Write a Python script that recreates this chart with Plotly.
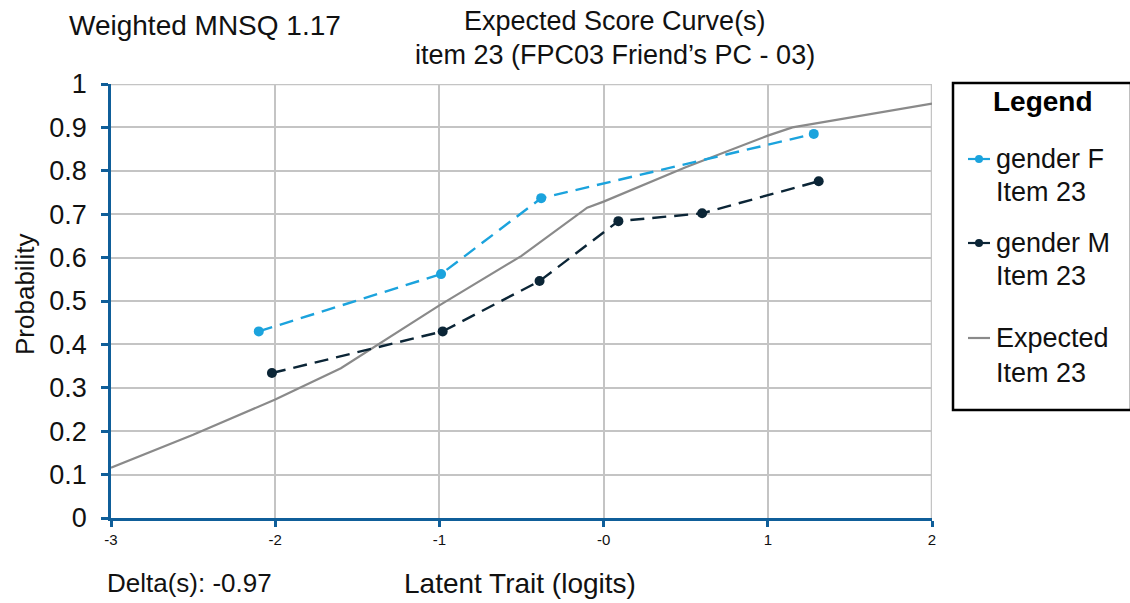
import plotly.graph_objects as go

# Observed proportions by group
f_x = [-2.10, -0.99, -0.38, 1.28]
f_y = [0.430, 0.562, 0.737, 0.885]
m_x = [-2.02, -0.98, -0.39, 0.09, 0.60, 1.31]
m_y = [0.334, 0.430, 0.546, 0.684, 0.702, 0.776]

# Model expected score curve
exp_x = [-3.0, -2.5, -2.0, -1.6, -1.0, -0.5, -0.1, 0.0, 0.5, 1.0, 1.15, 1.5, 2.0]
exp_y = [0.116, 0.192, 0.273, 0.345, 0.490, 0.604, 0.715, 0.729, 0.808, 0.881, 0.900, 0.923, 0.955]

x_ticks = [-3, -2, -1, 0, 1, 2]
x_tick_text = ["-3", "-2", "-1", "-0", "1", "2"]
y_ticks = [0, 0.1, 0.2, 0.3, 0.4, 0.5, 0.6, 0.7, 0.8, 0.9, 1]
y_tick_text = ["0", "0.1", "0.2", "0.3", "0.4", "0.5", "0.6", "0.7", "0.8", "0.9", "1"]

F_COLOR = "#1ba3dd"
M_COLOR = "#0b2536"
E_COLOR = "#8a8a8a"
AXIS_COLOR = "#0f5e99"
GRID_COLOR = "#c4c4c4"
TEXT_COLOR = "#111111"
FONT = "Liberation Sans, Arial, sans-serif"
DASH = "14px,8px"

fig = go.Figure()
fig.add_trace(go.Scatter(x=exp_x, y=exp_y, mode="lines",
                         line=dict(color=E_COLOR, width=2.2), name="Expected Item 23"))
fig.add_trace(go.Scatter(x=f_x, y=f_y, mode="lines+markers",
                         line=dict(color=F_COLOR, width=2.4, dash=DASH),
                         marker=dict(size=10, color=F_COLOR), name="gender F Item 23"))
fig.add_trace(go.Scatter(x=m_x, y=m_y, mode="lines+markers",
                         line=dict(color=M_COLOR, width=2.4, dash=DASH),
                         marker=dict(size=10, color=M_COLOR), name="gender M Item 23"))

W, H = 1130, 603
ML, MR, MT, MB = 111, 198, 84, 85
PW = W - ML - MR
PH = H - MT - MB

fig.update_layout(
    width=W, height=H,
    margin=dict(l=ML, r=MR, t=MT, b=MB),
    paper_bgcolor="white", plot_bgcolor="white",
    showlegend=False,
    font=dict(family=FONT, color=TEXT_COLOR),
    xaxis=dict(range=[-3, 2], tickvals=x_ticks, ticktext=x_tick_text,
               showgrid=True, gridcolor=GRID_COLOR, gridwidth=2,
               showline=True, linecolor=AXIS_COLOR, linewidth=2.5,
               ticks="outside", tickcolor=AXIS_COLOR, tickwidth=2.5, ticklen=6,
               tickfont=dict(size=15), zeroline=False),
    yaxis=dict(range=[0, 1], tickvals=y_ticks, ticktext=y_tick_text,
               showgrid=True, gridcolor=GRID_COLOR, gridwidth=2,
               showline=True, linecolor=AXIS_COLOR, linewidth=2.5,
               ticks="outside", tickcolor=AXIS_COLOR, tickwidth=2.5, ticklen=7,
               ticklabelstandoff=9,
               tickfont=dict(size=27), zeroline=False),
)

# pixel -> paper (plot-area) coordinates
def px(x):
    return (x - ML) / PW

def py(y):
    return (H - MB - y) / PH

# right and top plot-area borders (grid colour)
fig.add_shape(type="line", xref="x", yref="y", x0=2, x1=2, y0=0, y1=1,
              line=dict(color=GRID_COLOR, width=2.5), layer="below")
fig.add_shape(type="line", xref="x", yref="y", x0=-3, x1=2, y0=1, y1=1,
              line=dict(color=GRID_COLOR, width=2.5), layer="below")

texts = [
    ("Weighted MNSQ 1.17", 67, 25, "left", 28, 0),
    ("Expected Score Curve(s)", 615, 21, "center", 27, 0),
    ("item 23 (FPC03 Friend\u2019s PC - 03)", 615, 55, "center", 27, 0),
    ("Delta(s): -0.97", 105, 583, "left", 26, 0),
    ("Latent Trait (logits)", 520, 583, "center", 28, 0),
    ("Probability", 25, 295, "center", 26, -90),
]
for t, x, y, al, s, ang in texts:
    fig.add_annotation(text=t, x=px(x), y=py(y), xref="paper", yref="paper",
                       xanchor=al, yanchor="middle", showarrow=False, textangle=ang,
                       font=dict(size=s, family=FONT, color=TEXT_COLOR))

# legend box
fig.add_shape(type="rect", xref="paper", yref="paper",
              x0=px(953), x1=px(1131), y0=py(410), y1=py(83),
              line=dict(color="#000000", width=2.5), fillcolor="white")
fig.add_annotation(text="<b>Legend</b>", x=px(1043), y=py(101), xref="paper", yref="paper",
                   showarrow=False, xanchor="center", yanchor="middle",
                   font=dict(size=28, family=FONT, color="#000000"))

legend_items = [
    ("gender F", "Item 23", F_COLOR, True, 159, 192),
    ("gender M", "Item 23", M_COLOR, True, 243, 276),
    ("Expected", "Item 23", E_COLOR, False, 338, 373),
]
for l1, l2, c, mk, y1, y2 in legend_items:
    fig.add_shape(type="line", xref="paper", yref="paper",
                  x0=px(968), x1=px(990), y0=py(y1), y1=py(y1),
                  line=dict(color=c, width=2.2))
    if mk:
        fig.add_shape(type="circle", xref="paper", yref="paper",
                      x0=px(975), x1=px(983), y0=py(y1 + 4), y1=py(y1 - 4),
                      line=dict(color=c, width=0), fillcolor=c)
    fig.add_annotation(text=l1, x=px(994), y=py(y1), xref="paper", yref="paper",
                       showarrow=False, xanchor="left", yanchor="middle",
                       font=dict(size=27, family=FONT, color=TEXT_COLOR))
    fig.add_annotation(text=l2, x=px(994), y=py(y2), xref="paper", yref="paper",
                       showarrow=False, xanchor="left", yanchor="middle",
                       font=dict(size=27, family=FONT, color=TEXT_COLOR))

fig.write_html("out.html")
